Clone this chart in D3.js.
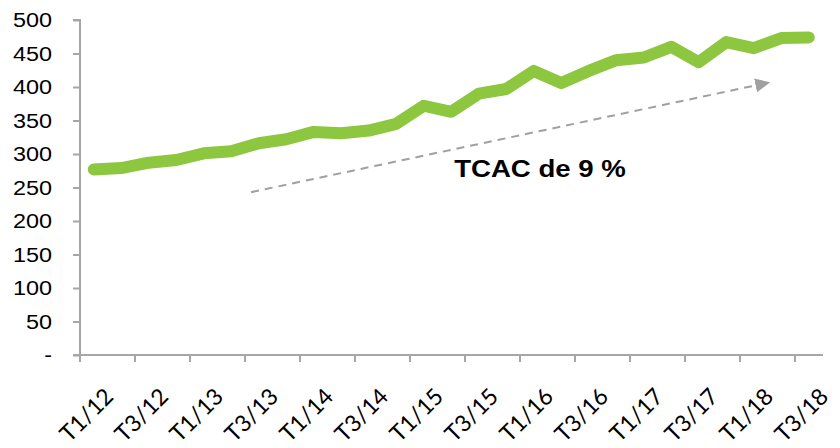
<!DOCTYPE html>
<html>
<head>
<meta charset="utf-8">
<script src="https://cdn.jsdelivr.net/npm/d3@7"></script>
<style>
  body { margin: 0; background: #fff; }
  svg { display: block; }
</style>
</head>
<body>
<svg id="chart"></svg>
<script>
// quarters T1/12 .. T3/18
const quarters = [
  'T1/12', 'T2/12', 'T3/12', 'T4/12',
  'T1/13', 'T2/13', 'T3/13', 'T4/13',
  'T1/14', 'T2/14', 'T3/14', 'T4/14',
  'T1/15', 'T2/15', 'T3/15', 'T4/15',
  'T1/16', 'T2/16', 'T3/16', 'T4/16',
  'T1/17', 'T2/17', 'T3/17', 'T4/17',
  'T1/18', 'T2/18', 'T3/18'
];
const values = [
  277, 279, 287, 291, 301, 304, 316, 322, 333, 331, 335, 345, 372, 363,
  390, 397, 424, 406, 424, 440, 444, 460, 437, 467, 458, 473, 474
];
const yTicks = [0, 50, 100, 150, 200, 250, 300, 350, 400, 450, 500];
const trendLabel = 'TCAC de 9 %';
// trend arrow: [quarter index (fractional), value]
const trendStart = [5.72, 243];
const trendEnd = [24.6, 407];

const width = 840;
const height = 448;

const svg = d3.select('#chart')
  .attr('width', width)
  .attr('height', height);

const x = d3.scaleBand()
  .domain(quarters)
  .range([80, 822.5])
  .padding(0);

// same span as the band scale, but by index (centre of band i at i)
const xi = d3.scaleLinear()
  .domain([-0.5, quarters.length - 0.5])
  .range([80, 822.5]);

const y = d3.scaleLinear()
  .domain([0, 500])
  .range([355, 20]);

const axisColor = '#a6a6a6';

// y axis
const yAxis = svg.append('g')
  .attr('transform', 'translate(80,0)')
  .call(d3.axisLeft(y).tickValues(yTicks).tickSize(7).tickFormat(''));
yAxis.select('.domain').attr('stroke', axisColor).attr('stroke-width', 2).attr('d', 'M-7,20H0V355');
yAxis.selectAll('.tick line').attr('stroke', axisColor).attr('stroke-width', 2);

svg.append('g')
  .selectAll('text')
  .data(yTicks)
  .enter()
  .append('text')
  .attr('transform', d => `translate(52,${y(d)}) scale(1.2,1)`)
  .attr('text-anchor', 'end')
  .attr('dy', '0.36em')
  .style('font-family', '"Liberation Sans", Arial, sans-serif')
  .style('font-size', '19.5px')
  .attr('fill', '#000')
  .text(d => d === 0 ? '-' : d);

// x axis, ticks every 2 quarters at the category boundaries
const xTickPos = d3.range(0, quarters.length, 2).map(i => x(quarters[i]));
const xAxis = svg.append('g');
xAxis.append('path')
  .attr('d', `M73,355H823`)
  .attr('stroke', axisColor)
  .attr('stroke-width', 2);
xAxis.selectAll('line')
  .data(xTickPos)
  .enter()
  .append('line')
  .attr('x1', d => d).attr('x2', d => d)
  .attr('y1', 355).attr('y2', 362)
  .attr('stroke', axisColor)
  .attr('stroke-width', 2);

const labelled = quarters.filter((q, i) => i % 2 === 0);
svg.append('g')
  .selectAll('text')
  .data(labelled)
  .enter()
  .append('text')
  .attr('transform', d => `translate(${x(d) + x.bandwidth() / 2 + 21},398) rotate(-45)`)
  .attr('text-anchor', 'end')
  .style('font-family', 'Lato, "Open Sans", sans-serif')
  .style('font-size', '23px')
  .attr('fill', '#000')
  .text(d => d);

// data line
const line = d3.line()
  .x(d => x(d[0]) + x.bandwidth() / 2)
  .y(d => y(d[1]));

svg.append('path')
  .datum(quarters.map((q, i) => [q, values[i]]))
  .attr('d', line)
  .attr('fill', 'none')
  .attr('stroke', '#8dc63f')
  .attr('stroke-width', 12)
  .attr('stroke-linejoin', 'round')
  .attr('stroke-linecap', 'round');

// dashed trend arrow
svg.append('defs')
  .append('marker')
  .attr('id', 'arrow')
  .attr('viewBox', '0 0 10 10')
  .attr('refX', 10)
  .attr('refY', 5)
  .attr('markerWidth', 15)
  .attr('markerHeight', 14)
  .attr('markerUnits', 'userSpaceOnUse')
  .attr('orient', 'auto')
  .attr('preserveAspectRatio', 'none')
  .append('path')
  .attr('d', 'M0,0L10,5L0,10Z')
  .attr('fill', '#a0a0a0');

svg.append('line')
  .attr('x1', xi(trendStart[0]))
  .attr('y1', y(trendStart[1]))
  .attr('x2', xi(trendEnd[0]))
  .attr('y2', y(trendEnd[1]))
  .attr('stroke', '#a0a0a0')
  .attr('stroke-width', 2)
  .attr('stroke-dasharray', '8,6')
  .attr('marker-end', 'url(#arrow)');

svg.append('text')
  .attr('transform', 'translate(540,177) scale(1.15,1)')
  .attr('text-anchor', 'middle')
  .style('font-family', '"Liberation Sans", Arial, sans-serif')
  .style('font-size', '24px')
  .style('font-weight', 'bold')
  .attr('fill', '#000')
  .text(trendLabel);
</script>
</body>
</html>
